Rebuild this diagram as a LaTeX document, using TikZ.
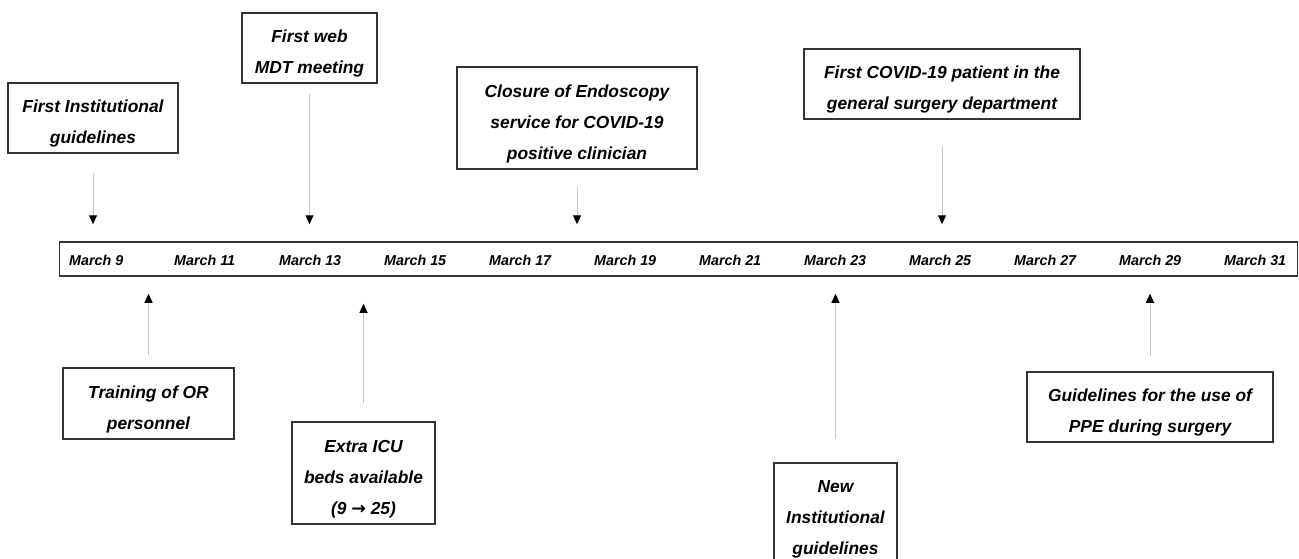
\documentclass[tikz,border=0pt]{standalone}
\usepackage{fontspec}
\setmainfont{Liberation Sans}
\newfontfamily\arrowfont{DejaVu Sans}
\usetikzlibrary{arrows.meta}
\newcommand{\lift}{\rule{0pt}{24pt}}
\tikzset{
  event/.style={draw=black!80, line width=1.2pt, align=center, inner sep=0pt,
    font=\fontsize{17.4}{31}\selectfont\bfseries\itshape},
  evarrow/.style={gray!45, line width=1pt, -{Triangle[black,length=9pt,width=8pt]}},
  daylabel/.style={anchor=west, inner sep=0pt, font=\fontsize{14.3}{16}\selectfont\bfseries\itshape}
}
\begin{document}
\begin{tikzpicture}[x=1pt,y=-1pt]
	\useasboundingbox (0,0) rectangle (1299,559);
	\clip (0,0) rectangle (1299,559);
	% timeline bar
	\node[draw=black!80, line width=1.5pt, minimum width=1238pt, minimum height=34pt, inner sep=0pt] (line) at (678.5,259) {};
	\foreach \k in {0,...,11}{
		\pgfmathtruncatemacro{\dd}{9+2*\k}
		\node[daylabel] (d\dd) at (69+105*\k,260) {March \dd};
	}
	% events above
	\node[event, minimum width=170pt, minimum height=70pt] (inst) at (93,118) {\lift First Institutional\\guidelines};
	\node[event, minimum width=135pt, minimum height=70pt] (mdt) at (309.5,48) {\lift First web\\MDT meeting};
	\node[event, minimum width=240pt, minimum height=102pt] (endo) at (577,118) {\lift Closure of Endoscopy\\service for COVID-19\\positive clinician};
	\node[event, minimum width=276pt, minimum height=70pt] (covid) at (942,84) {\lift First COVID-19 patient in the\\general surgery department};
	% events below
	\node[event, minimum width=171pt, minimum height=71pt] (train) at (148.5,403.5) {\lift Training of OR\\personnel};
	\node[event, minimum width=143pt, minimum height=102pt] (icu) at (363.5,473) {\lift Extra ICU\\beds available\\(9 {\arrowfont\bfseries →} 25)};
	\node[event, minimum width=123pt, minimum height=100pt] (newinst) at (835.5,513) {\lift New\\Institutional\\guidelines};
	\node[event, minimum width=246pt, minimum height=70pt] (ppe) at (1150,407) {\lift Guidelines for the use of\\PPE during surgery};
	% arrows
	\draw[evarrow] ([yshift=-19pt]inst.south) -- ([yshift=17pt]inst.south |- line.north);
	\draw[evarrow] ([yshift=-10pt]mdt.south) -- ([yshift=17pt]mdt.south |- line.north);
	\draw[evarrow] ([yshift=-17pt]endo.south) -- ([yshift=17pt]endo.south |- line.north);
	\draw[evarrow] ([yshift=-26pt]covid.south) -- ([yshift=17pt]covid.south |- line.north);
	\draw[evarrow] ([yshift=12pt]train.north) -- ([yshift=-17pt]train.north |- line.south);
	\draw[evarrow] ([yshift=18pt]icu.north) -- ([yshift=-27pt]icu.north |- line.south);
	\draw[evarrow] ([yshift=23pt]newinst.north) -- ([yshift=-17pt]newinst.north |- line.south);
	\draw[evarrow] ([yshift=15pt]ppe.north) -- ([yshift=-17pt]ppe.north |- line.south);
\end{tikzpicture}
\end{document}
